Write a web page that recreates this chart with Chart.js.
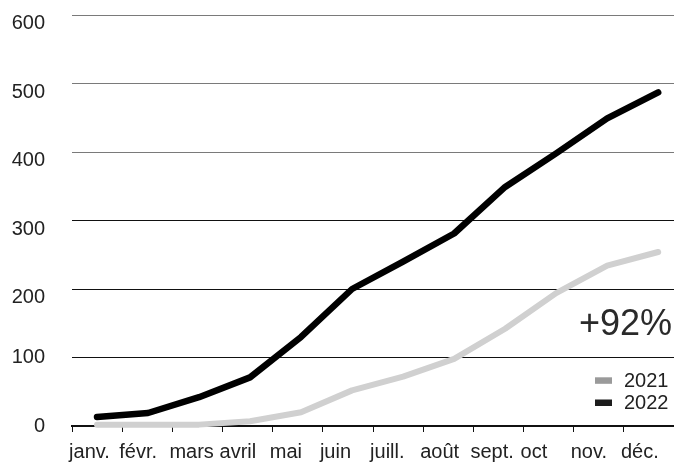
<!DOCTYPE html>
<html>
<head>
<meta charset="utf-8">
<script src="https://cdn.jsdelivr.net/npm/chart.js@4/dist/chart.umd.min.js"></script>
<style>
  html, body { margin: 0; padding: 0; background: #ffffff; }
  #wrap { width: 674px; height: 466px; }
</style>
</head>
<body>
<div id="wrap"><canvas id="c" width="674" height="466"></canvas></div>
<script>
// ---- data ----
const months = ['janv.', 'févr.', 'mars', 'avril', 'mai', 'juin', 'juill.', 'août', 'sept.', 'oct', 'nov.', 'déc.'];
const values2021 = [2, 2, 2, 7, 20, 52, 72, 98, 142, 194, 234, 254];
const values2022 = [13, 19, 42, 71, 130, 200, 240, 281, 349, 398, 449, 487];
const seriesNames = ['2021', '2022'];
const yTickValues = [0, 100, 200, 300, 400, 500, 600];
const changeLabel = '+92%';

// ---- styles ----
const FONT = '"Liberation Sans", Arial, Helvetica, sans-serif';
const lineColors = ['#d0d0d0', '#000000'];
const swatchColors = ['#9a9a9a', '#1c1c1c'];
const textColor = '#222222';

const toPoints = arr => arr.map((v, i) => ({ x: i, y: v }));

const legendAndNote = {
  id: 'legendAndNote',
  afterDatasetsDraw(chart) {
    const ctx = chart.ctx;
    ctx.save();
    ctx.font = '36px ' + FONT;
    ctx.fillStyle = '#2a2a2a';
    ctx.textAlign = 'right';
    ctx.textBaseline = 'alphabetic';
    ctx.fillText(changeLabel, 672, 335);
    ctx.font = '20px ' + FONT;
    ctx.textAlign = 'left';
    ctx.textBaseline = 'middle';
    const rows = [380.5, 402.7];
    chart.data.datasets.forEach((ds, i) => {
      const cy = rows[i];
      ctx.fillStyle = swatchColors[i];
      ctx.fillRect(595, cy - 3.2, 17, 6.5);
      ctx.fillStyle = textColor;
      ctx.fillText(ds.label, 624, cy + 1);
    });
    ctx.restore();
  }
};

new Chart(document.getElementById('c'), {
  type: 'line',
  data: {
    labels: months,
    datasets: [
      {
        label: seriesNames[0],
        data: toPoints(values2021),
        xAxisID: 'x2',
        yAxisID: 'y',
        borderColor: lineColors[0],
        borderWidth: 6,
        borderCapStyle: 'round',
        borderJoinStyle: 'round',
        pointRadius: 0,
        tension: 0,
        fill: false,
        clip: false
      },
      {
        label: seriesNames[1],
        data: toPoints(values2022),
        xAxisID: 'x2',
        yAxisID: 'y',
        borderColor: lineColors[1],
        borderWidth: 6.5,
        borderCapStyle: 'round',
        borderJoinStyle: 'round',
        pointRadius: 0,
        tension: 0,
        fill: false,
        clip: false
      }
    ]
  },
  options: {
    responsive: false,
    animation: false,
    devicePixelRatio: 1,
    layout: { padding: { top: 15, right: 0, bottom: 0, left: 0 } },
    plugins: {
      legend: { display: false },
      tooltip: { enabled: false }
    },
    scales: {
      x: {
        type: 'category',
        position: 'bottom',
        offset: true,
        grid: {
          display: true,
          drawOnChartArea: false,
          drawTicks: true,
          tickLength: 6,
          color: '#111111',
          lineWidth: 1,
          offset: true
        },
        border: { display: true, color: '#111111', width: 2 },
        ticks: {
          autoSkip: false,
          maxRotation: 0,
          minRotation: 0,
          align: 'start',
          labelOffset: -28,
          padding: 8,
          color: textColor,
          font: { family: FONT, size: 20 }
        },
        afterFit(scale) { scale.height = 40; scale.paddingLeft = 0; scale.paddingRight = 0; }
      },
      x2: {
        type: 'linear',
        axis: 'x',
        position: 'bottom',
        display: false,
        min: -0.49,
        max: 11.31
      },
      y: {
        type: 'linear',
        position: 'left',
        min: 0,
        max: 600,
        afterBuildTicks(scale) { scale.ticks = yTickValues.map(v => ({ value: v })); },
        grid: {
          color: ctx => (ctx.tick && ctx.tick.value >= 400 ? '#7a7a7a' : '#111111'),
          lineWidth: 1,
          drawTicks: false
        },
        border: { display: false },
        ticks: {
          autoSkip: false,
          padding: 27,
          color: textColor,
          font: { family: FONT, size: 20, lineHeight: 0.85 },
          // upper labels sit a little below their grid lines in the reference
          callback: v => (v >= 200 ? ['', String(v)] : String(v))
        },
        afterFit(scale) { scale.width = 72; scale.paddingTop = 0; scale.paddingBottom = 0; }
      }
    }
  },
  plugins: [legendAndNote]
});
</script>
</body>
</html>
